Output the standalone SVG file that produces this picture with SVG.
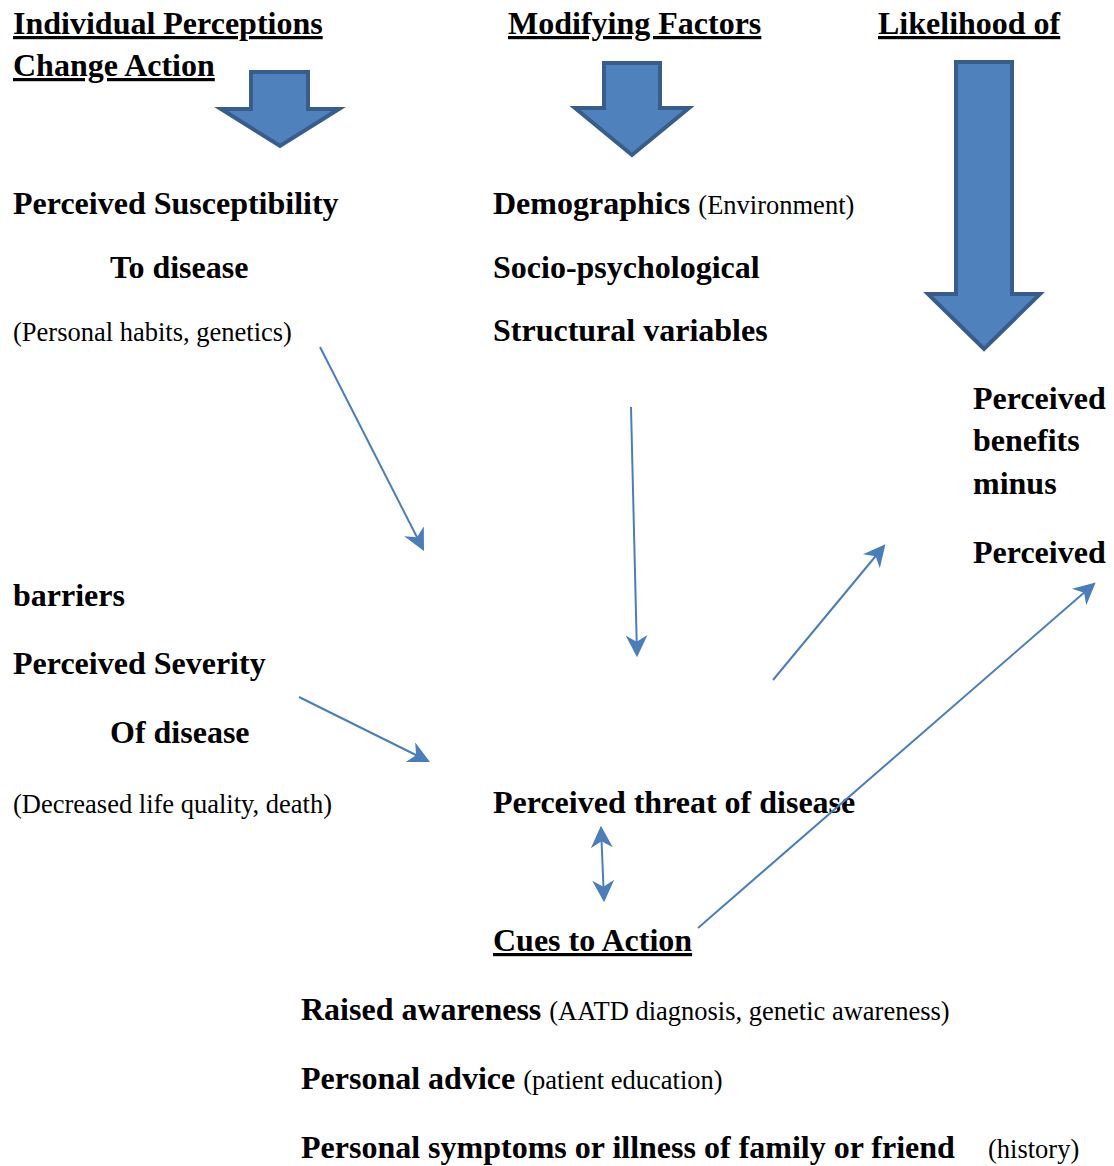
<svg xmlns="http://www.w3.org/2000/svg" width="1114" height="1166" viewBox="0 0 1114 1166">
<style>
text{font-family:"Liberation Serif","Times New Roman",serif;fill:#000}
.b{font-weight:bold;font-size:32px}
.u{text-decoration:underline}
.r{font-weight:normal;font-size:26.5px}
.blk{fill:#4F81BD;stroke:#385D8A;stroke-width:4;stroke-linejoin:miter}
.ln{stroke:#4A7EBB;stroke-width:2;fill:none}
</style>
<defs>
<marker id="ahb" viewBox="0 0 10 10" refX="9" refY="5" markerWidth="22" markerHeight="22" markerUnits="userSpaceOnUse" orient="auto-start-reverse">
<path d="M0,0 L10,5 L0,10 L3,5 z" fill="#4A7EBB"/>
</marker>
</defs>
<g id="headings">
<text class="b u" x="13" y="34">Individual Perceptions</text>
<text class="b u" x="13" y="76">Change Action</text>
<text class="b u" x="508" y="34">Modifying Factors</text>
<text class="b u" x="878" y="34">Likelihood of</text>
</g>
<g id="block-arrows">
<path class="blk" d="M251,72 L308,72 L308,109 L339,109 L280,146 L221,109 L251,109 Z"/>
<path class="blk" d="M604,63 L660,63 L660,108 L689,108 L632,155 L575,108 L604,108 Z"/>
<path class="blk" d="M956,62 L1012,62 L1012,294 L1040,294 L984,349 L928,294 L956,294 Z"/>
</g>
<g id="node-susceptibility">
<text class="b" x="13" y="214">Perceived Susceptibility</text>
<text class="b" x="110" y="278">To disease</text>
<text class="r" x="13" y="341">(Personal habits, genetics)</text>
</g>
<g id="node-modifying">
<text class="b" x="493" y="214">Demographics <tspan class="r">(Environment)</tspan></text>
<text class="b" x="493" y="278">Socio-psychological</text>
<text class="b" x="493" y="341">Structural variables</text>
</g>
<g id="node-likelihood">
<text class="b" x="973" y="409">Perceived</text>
<text class="b" x="973" y="451">benefits</text>
<text class="b" x="973" y="494">minus</text>
<text class="b" x="973" y="563">Perceived</text>
<text class="b" x="13" y="606">barriers</text>
</g>
<g id="node-severity">
<text class="b" x="13" y="674">Perceived Severity</text>
<text class="b" x="110" y="743">Of disease</text>
<text class="r" x="13" y="813">(Decreased life quality, death)</text>
</g>
<g id="node-threat">
<text class="b" x="493" y="813">Perceived threat of disease</text>
</g>
<g id="node-cues">
<text class="b u" x="493" y="951">Cues to Action</text>
<text class="b" x="301" y="1020">Raised awareness <tspan class="r">(AATD diagnosis, genetic awareness)</tspan></text>
<text class="b" x="301" y="1089">Personal advice <tspan class="r">(patient education)</tspan></text>
<text class="b" x="301" y="1158">Personal symptoms or illness of family or friend</text>
<text class="r" x="988" y="1158">(history)</text>
</g>
<g id="connectors">
<line class="ln" x1="320" y1="347" x2="423" y2="549" marker-end="url(#ahb)"/>
<line class="ln" x1="631" y1="407" x2="637" y2="655" marker-end="url(#ahb)"/>
<line class="ln" x1="299" y1="697" x2="428" y2="761" marker-end="url(#ahb)"/>
<line class="ln" x1="773" y1="680" x2="884" y2="546" marker-end="url(#ahb)"/>
<line class="ln" x1="698" y1="928" x2="1094" y2="584" marker-end="url(#ahb)"/>
<line class="ln" x1="601" y1="828" x2="604" y2="900" marker-start="url(#ahb)" marker-end="url(#ahb)"/>
</g>
</svg>
